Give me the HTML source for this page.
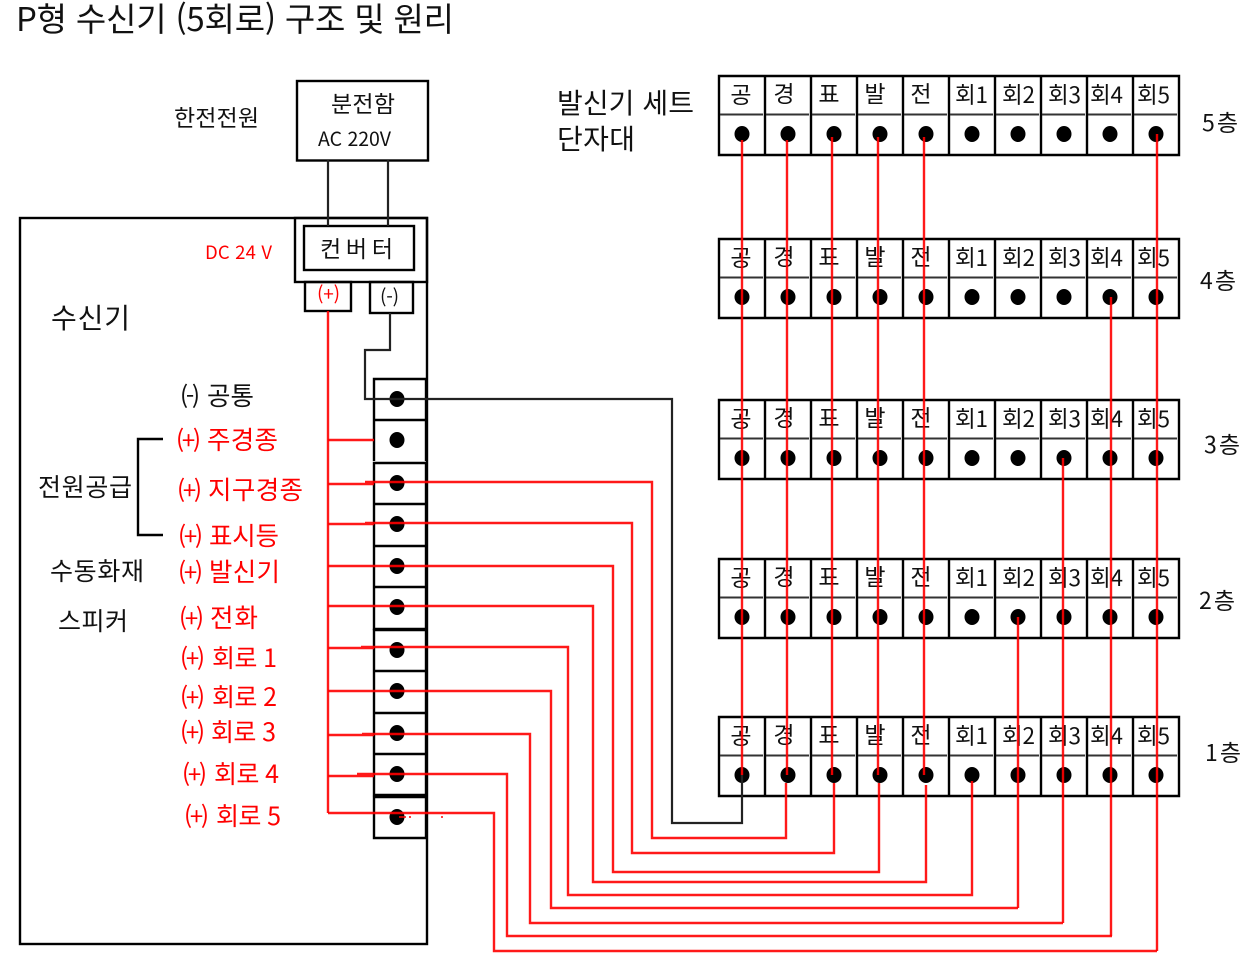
<!DOCTYPE html>
<html lang="ko"><head><meta charset="utf-8"><title>P형 수신기</title>
<style>html,body{margin:0;padding:0;background:#fff;width:1258px;height:969px;overflow:hidden}
svg{display:block}
text{font-family:"Noto Sans CJK KR","Liberation Sans",sans-serif;fill:#111;transform:translateY(1px)}
.r{fill:#f00}
.c{font-size:23px;text-anchor:middle}
.n{font-size:22.500px}
.l{font-size:23px}
.w{fill:none;stroke:#f00;stroke-width:2.400;stroke-opacity:.9}
.k{fill:none;stroke:#222;stroke-width:2.200}
.b{fill:none;stroke:#000;stroke-width:2.400}
.d{fill:none;stroke:#333;stroke-width:2}
</style></head><body>
<svg width="1258" height="969" viewBox="0 0 1258 969" xmlns="http://www.w3.org/2000/svg">
<text x="16" y="31" font-size="33" textLength="438" style="transform:none">P형 수신기 (5회로) 구조 및 원리</text>
<text x="174" y="125" font-size="23" textLength="85">한전전원</text>
<rect x="297" y="81" width="131" height="79.500" class="b"/>
<text x="331" y="111" font-size="23" textLength="64">분전함</text>
<text x="318" y="145" font-size="19.500" textLength="73">AC 220V</text>
<text x="557" y="112" font-size="28" textLength="137">발신기 세트</text>
<text x="557" y="148" font-size="28" textLength="78">단자대</text>
<rect x="20" y="218" width="407" height="726" class="b"/>
<rect x="295" y="218" width="132" height="64" class="b" stroke-width="3"/>
<rect x="304" y="226" width="110" height="44" class="b"/>
<path class="k" d="M328 160V226M388 160V226"/>
<text x="320" y="256" font-size="23" textLength="73">컨 버 터</text>
<text x="205" y="258" font-size="18.500" class="r" textLength="67">DC 24 V</text>
<rect x="305" y="282" width="46" height="29" class="b"/>
<rect x="370" y="282" width="43" height="31" class="b"/>
<text x="317" y="300" font-size="19" class="r" textLength="23">(+)</text>
<text x="380" y="303" font-size="19" textLength="19">(-)</text>
<text x="51" y="327" font-size="28" textLength="79">수신기</text>
<text x="180" y="404" font-size="24" textLength="20">(-)</text><text x="207" y="404" font-size="25.500" textLength="47">공통</text>
<text x="176" y="448" font-size="24" class="r" textLength="25">(+)</text><text x="207" y="448" font-size="25.500" class="r" textLength="71">주경종</text>
<text x="177" y="498" font-size="24" class="r" textLength="25">(+)</text><text x="208" y="498" font-size="25.500" class="r" textLength="95">지구경종</text>
<text x="178" y="544" font-size="24" class="r" textLength="25">(+)</text><text x="209" y="544" font-size="25.500" class="r" textLength="70">표시등</text>
<text x="178" y="580" font-size="24" class="r" textLength="25">(+)</text><text x="209" y="580" font-size="25.500" class="r" textLength="71">발신기</text>
<text x="179" y="626" font-size="24" class="r" textLength="25">(+)</text><text x="210" y="626" font-size="25.500" class="r" textLength="48">전화</text>
<text x="180" y="666" font-size="24" class="r" textLength="25">(+)</text><text x="212" y="666" font-size="25" class="r" textLength="65">회로 1</text>
<text x="180" y="705" font-size="24" class="r" textLength="25">(+)</text><text x="212" y="705" font-size="25" class="r" textLength="65">회로 2</text>
<text x="180" y="740" font-size="24" class="r" textLength="25">(+)</text><text x="211" y="740" font-size="25" class="r" textLength="65">회로 3</text>
<text x="182" y="782" font-size="24" class="r" textLength="25">(+)</text><text x="214" y="782" font-size="25" class="r" textLength="65">회로 4</text>
<text x="184" y="824" font-size="24" class="r" textLength="25">(+)</text><text x="216" y="824" font-size="25" class="r" textLength="65">회로 5</text>
<text x="38" y="495" font-size="25" textLength="94">전원공급</text>
<text x="50" y="579" font-size="25" textLength="94">수동화재</text>
<text x="58" y="629" font-size="25" textLength="70">스피커</text>
<path class="b" d="M163 439H138V535H163"/>
<path class="b" d="M374 461V379H426V461M374 420H426"/>
<path class="b" d="M374 463H426V629H374ZM374 504H426M374 546H426M374 587H426"/>
<path class="b" d="M374 630H426V795H374ZM374 671H426M374 713H426M374 754H426"/>
<path class="b" d="M374 797H426V838H374Z"/>
<g fill="#000">
<ellipse cx="397" cy="399" rx="7.500" ry="8"/><ellipse cx="397" cy="440" rx="7.500" ry="8"/><ellipse cx="397" cy="483" rx="7.500" ry="8"/><ellipse cx="397" cy="524" rx="7.500" ry="8"/><ellipse cx="397" cy="566" rx="7.500" ry="8"/><ellipse cx="397" cy="607" rx="7.500" ry="8"/><ellipse cx="397" cy="650" rx="7.500" ry="8"/><ellipse cx="397" cy="691" rx="7.500" ry="8"/><ellipse cx="397" cy="733" rx="7.500" ry="8"/><ellipse cx="397" cy="774" rx="7.500" ry="8"/><ellipse cx="397" cy="817" rx="7.500" ry="8"/>
</g>
<!-- floors -->
<g class="b">
<path class="b" d="M719 76H1179V155H719ZM765 76V155M811 76V155M857 76V155M903 76V155M949 76V155M995 76V155M1041 76V155M1087 76V155M1133 76V155"/>
<path class="b" d="M719 239H1179V318H719ZM765 239V318M811 239V318M857 239V318M903 239V318M949 239V318M995 239V318M1041 239V318M1087 239V318M1133 239V318"/>
<path class="b" d="M719 400H1179V479H719ZM765 400V479M811 400V479M857 400V479M903 400V479M949 400V479M995 400V479M1041 400V479M1087 400V479M1133 400V479"/>
<path class="b" d="M719 559H1179V638H719ZM765 559V638M811 559V638M857 559V638M903 559V638M949 559V638M995 559V638M1041 559V638M1087 559V638M1133 559V638"/>
<path class="b" d="M719 717H1179V796H719ZM765 717V796M811 717V796M857 717V796M903 717V796M949 717V796M995 717V796M1041 717V796M1087 717V796M1133 717V796"/>
</g>
<path class="d" d="M720 114.500H763M766 114.500H809M812 114.500H855M858 114.500H901M904 114.500H947M950 114.500H993M996 114.500H1039M1042 114.500H1085M1088 114.500H1131M1134 114.500H1177"/>
<path class="d" d="M720 277.500H763M766 277.500H809M812 277.500H855M858 277.500H901M904 277.500H947M950 277.500H993M996 277.500H1039M1042 277.500H1085M1088 277.500H1131M1134 277.500H1177"/>
<path class="d" d="M720 438.500H763M766 438.500H809M812 438.500H855M858 438.500H901M904 438.500H947M950 438.500H993M996 438.500H1039M1042 438.500H1085M1088 438.500H1131M1134 438.500H1177"/>
<path class="d" d="M720 597.500H763M766 597.500H809M812 597.500H855M858 597.500H901M904 597.500H947M950 597.500H993M996 597.500H1039M1042 597.500H1085M1088 597.500H1131M1134 597.500H1177"/>
<path class="d" d="M720 755.500H763M766 755.500H809M812 755.500H855M858 755.500H901M904 755.500H947M950 755.500H993M996 755.500H1039M1042 755.500H1085M1088 755.500H1131M1134 755.500H1177"/>
<g>
<text class="c" x="741" y="102">공</text><text class="c" x="784" y="101">경</text><text class="c" x="829" y="101">표</text><text class="c" x="875" y="101">발</text><text class="c" x="921" y="101">전</text><text class="n" x="955" y="102" textLength="33">회1</text><text class="n" x="1002" y="102" textLength="33">회2</text><text class="n" x="1048" y="102" textLength="33">회3</text><text class="n" x="1090" y="102" textLength="33">회4</text><text class="n" x="1137" y="102" textLength="33">회5</text>
<text class="c" x="741" y="265">공</text><text class="c" x="784" y="264">경</text><text class="c" x="829" y="264">표</text><text class="c" x="875" y="264">발</text><text class="c" x="921" y="264">전</text><text class="n" x="955" y="265" textLength="33">회1</text><text class="n" x="1002" y="265" textLength="33">회2</text><text class="n" x="1048" y="265" textLength="33">회3</text><text class="n" x="1090" y="265" textLength="33">회4</text><text class="n" x="1137" y="265" textLength="33">회5</text>
<text class="c" x="741" y="426">공</text><text class="c" x="784" y="425">경</text><text class="c" x="829" y="425">표</text><text class="c" x="875" y="425">발</text><text class="c" x="921" y="425">전</text><text class="n" x="955" y="426" textLength="33">회1</text><text class="n" x="1002" y="426" textLength="33">회2</text><text class="n" x="1048" y="426" textLength="33">회3</text><text class="n" x="1090" y="426" textLength="33">회4</text><text class="n" x="1137" y="426" textLength="33">회5</text>
<text class="c" x="741" y="585">공</text><text class="c" x="784" y="584">경</text><text class="c" x="829" y="584">표</text><text class="c" x="875" y="584">발</text><text class="c" x="921" y="584">전</text><text class="n" x="955" y="585" textLength="33">회1</text><text class="n" x="1002" y="585" textLength="33">회2</text><text class="n" x="1048" y="585" textLength="33">회3</text><text class="n" x="1090" y="585" textLength="33">회4</text><text class="n" x="1137" y="585" textLength="33">회5</text>
<text class="c" x="741" y="743">공</text><text class="c" x="784" y="742">경</text><text class="c" x="829" y="742">표</text><text class="c" x="875" y="742">발</text><text class="c" x="921" y="742">전</text><text class="n" x="955" y="743" textLength="33">회1</text><text class="n" x="1002" y="743" textLength="33">회2</text><text class="n" x="1048" y="743" textLength="33">회3</text><text class="n" x="1090" y="743" textLength="33">회4</text><text class="n" x="1137" y="743" textLength="33">회5</text>
</g>
<g fill="#000">
<ellipse cx="742" cy="134" rx="7.500" ry="8"/><ellipse cx="788" cy="134" rx="7.500" ry="8"/><ellipse cx="834" cy="134" rx="7.500" ry="8"/><ellipse cx="880" cy="134" rx="7.500" ry="8"/><ellipse cx="926" cy="134" rx="7.500" ry="8"/><ellipse cx="972" cy="134" rx="7.500" ry="8"/><ellipse cx="1018" cy="134" rx="7.500" ry="8"/><ellipse cx="1064" cy="134" rx="7.500" ry="8"/><ellipse cx="1110" cy="134" rx="7.500" ry="8"/><ellipse cx="1156" cy="134" rx="7.500" ry="8"/>
<ellipse cx="742" cy="297" rx="7.500" ry="8"/><ellipse cx="788" cy="297" rx="7.500" ry="8"/><ellipse cx="834" cy="297" rx="7.500" ry="8"/><ellipse cx="880" cy="297" rx="7.500" ry="8"/><ellipse cx="926" cy="297" rx="7.500" ry="8"/><ellipse cx="972" cy="297" rx="7.500" ry="8"/><ellipse cx="1018" cy="297" rx="7.500" ry="8"/><ellipse cx="1064" cy="297" rx="7.500" ry="8"/><ellipse cx="1110" cy="297" rx="7.500" ry="8"/><ellipse cx="1156" cy="297" rx="7.500" ry="8"/>
<ellipse cx="742" cy="458" rx="7.500" ry="8"/><ellipse cx="788" cy="458" rx="7.500" ry="8"/><ellipse cx="834" cy="458" rx="7.500" ry="8"/><ellipse cx="880" cy="458" rx="7.500" ry="8"/><ellipse cx="926" cy="458" rx="7.500" ry="8"/><ellipse cx="972" cy="458" rx="7.500" ry="8"/><ellipse cx="1018" cy="458" rx="7.500" ry="8"/><ellipse cx="1064" cy="458" rx="7.500" ry="8"/><ellipse cx="1110" cy="458" rx="7.500" ry="8"/><ellipse cx="1156" cy="458" rx="7.500" ry="8"/>
<ellipse cx="742" cy="617" rx="7.500" ry="8"/><ellipse cx="788" cy="617" rx="7.500" ry="8"/><ellipse cx="834" cy="617" rx="7.500" ry="8"/><ellipse cx="880" cy="617" rx="7.500" ry="8"/><ellipse cx="926" cy="617" rx="7.500" ry="8"/><ellipse cx="972" cy="617" rx="7.500" ry="8"/><ellipse cx="1018" cy="617" rx="7.500" ry="8"/><ellipse cx="1064" cy="617" rx="7.500" ry="8"/><ellipse cx="1110" cy="617" rx="7.500" ry="8"/><ellipse cx="1156" cy="617" rx="7.500" ry="8"/>
<ellipse cx="742" cy="775" rx="7.500" ry="8"/><ellipse cx="788" cy="775" rx="7.500" ry="8"/><ellipse cx="834" cy="775" rx="7.500" ry="8"/><ellipse cx="880" cy="775" rx="7.500" ry="8"/><ellipse cx="926" cy="775" rx="7.500" ry="8"/><ellipse cx="972" cy="775" rx="7.500" ry="8"/><ellipse cx="1018" cy="775" rx="7.500" ry="8"/><ellipse cx="1064" cy="775" rx="7.500" ry="8"/><ellipse cx="1110" cy="775" rx="7.500" ry="8"/><ellipse cx="1156" cy="775" rx="7.500" ry="8"/>
</g>
<text class="l" x="1202" y="130" textLength="36">5층</text>
<text class="l" x="1200" y="288" textLength="36">4층</text>
<text class="l" x="1204" y="452" textLength="36">3층</text>
<text class="l" x="1199" y="608" textLength="36">2층</text>
<text class="l" x="1205" y="760" textLength="36">1층</text>
<!-- black wires -->
<path class="k" d="M390 313V350H365V399H672V823H742V775"/>
<!-- red bus -->
<path class="w" d="M328 311V813"/>
<path class="w" d="M328 440H374"/>
<path class="w" d="M328 484H374M365 482H652V838H786V783"/>
<path class="w" d="M328 524H374M365 523H632V853H834V783"/>
<path class="w" d="M328 566H374M365 566H613V872H879V783"/>
<path class="w" d="M328 606H374M365 606H593V882H926V785"/>
<path class="w" d="M328 648H374M361 647H568V895H972V781"/>
<path class="w" d="M328 691H374M360 691H551V908H1018"/>
<path class="w" d="M328 735H374M362 734H530V923H1063"/>
<path class="w" d="M328 776H374M357 774H507V936H1112"/>
<path class="w" d="M328 813H374M359 813H494V951H1157"/>
<path d="M399 817H406M410 816V818M442 816V818" fill="none" stroke="#f00" stroke-width="1.500"/>
<!-- red risers -->
<path class="w" d="M742 140V775M787 140V775M832 137V775M878 137V775M924 137V775"/>
<path class="w" d="M1157 134V951M1111 297V936M1063 458V923M1018 617V908"/>
</svg>
</body></html>
